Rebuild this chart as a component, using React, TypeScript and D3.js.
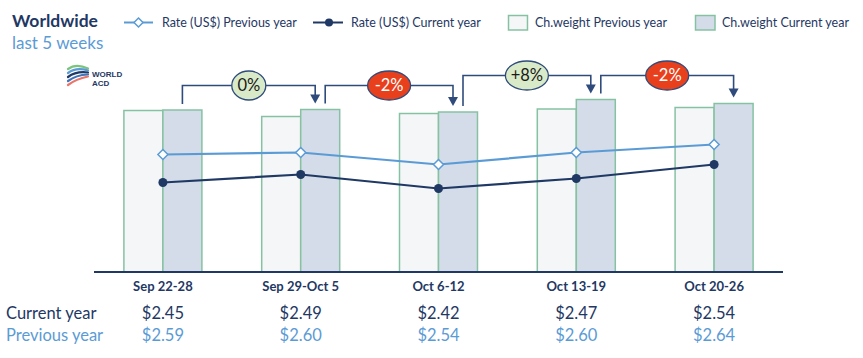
import * as d3 from 'd3';

const weeks = ['Sep 22-28', 'Sep 29-Oct 5', 'Oct 6-12', 'Oct 13-19', 'Oct 20-26'];
const rateCurrent = [2.45, 2.49, 2.42, 2.47, 2.54];
const ratePrevious = [2.59, 2.6, 2.54, 2.6, 2.64];
// chargeable weight, relative index
const weightPrevious = [161.5, 155.5, 158.5, 163, 164.5];
const weightCurrent = [162, 162.5, 160, 172.5, 168.5];
const changeLabels = ['0%', '-2%', '+8%', '-2%'];

const W = 863;
const H = 358;
const NAVY = '#1f3864';
const LIGHT = '#5b9bd5';
const GREEN = '#86c2a2';
const FONT = 'Lato, "Open Sans", sans-serif';

export default function App() {
  const axisY = 272;
  const x = d3.scaleBand<string>().domain(weeks).range([94, 783]);
  const cx = (i: number) => (x(weeks[i]) as number) + x.bandwidth() / 2;
  const barW = 39;

  const yW = d3.scaleLinear().domain([0, 200]).range([axisY, 72]);
  const yR = d3.scaleLinear().domain([2.0, 2.8]).range([272.5, 112.5]);

  const linePrev = d3.line<number>().x((_, i) => cx(i)).y(d => yR(d))(ratePrevious) || '';
  const lineCur = d3.line<number>().x((_, i) => cx(i)).y(d => yR(d))(rateCurrent) || '';

  const diamond = (px: number, py: number, r = 4.5) =>
    `M${px},${py - r}L${px + r},${py}L${px},${py + r}L${px - r},${py}Z`;

  // brackets between consecutive current-year bars
  const brackets = changeLabels.map((lab, i) => {
    const x0 = cx(i) + barW / 2 + (i > 0 ? 5 : 0);
    const x1 = cx(i + 1) + barW / 2 - (i + 1 < weeks.length - 1 ? 5 : 0);
    const y0 = yW(weightCurrent[i]) - 6;
    const y1 = yW(weightCurrent[i + 1]) - 6;
    const yh = Math.min(y0, y1) - 18;
    const neg = lab.startsWith('-');
    const rx = lab.length === 2 ? 17 : lab.length === 3 ? 21.5 : 23;
    return { lab, x0, x1, y0, y1, yh, neg, rx, mx: (x0 + x1) / 2 };
  });

  return (
    <svg width={W} height={H} style={{ position: 'absolute', left: 0, top: 0, background: '#fff' }}
      fontFamily={FONT}>
      {/* title */}
      <text x={12} y={27} fontSize={17.5} fontWeight={700} fill={NAVY}>Worldwide</text>
      <text x={12} y={48.5} fontSize={17} fill={LIGHT}>last 5 weeks</text>

      {/* logo */}
      <g>
        {[['#7bc47f', -7], ['#5b9bd5', -3], ['#1f3864', 1], ['#3f74b8', 5], ['#e8766b', 9]].map(([c, dy], k) => (
          <path key={k}
            d={`M${68},${76 + (dy as number)} Q${76},${70 + (dy as number)} ${88},${72 + (dy as number) * 0.5}`}
            fill="none" stroke={c as string} strokeWidth={2.2} strokeLinecap="round" />
        ))}
        <text x={92} y={76.5} fontSize={8} fontWeight={700} fill={NAVY} fontFamily="Liberation Sans, Arial">WORLD</text>
        <text x={92} y={85.5} fontSize={8} fontWeight={700} fill={NAVY} fontFamily="Liberation Sans, Arial">ACD</text>
      </g>

      {/* legend */}
      <g fontSize={12.5} fill={NAVY}>
        <line x1={124} x2={153} y1={22.5} y2={22.5} stroke={LIGHT} strokeWidth={2} />
        <path d={diamond(138.5, 22.5, 4.5)} fill="#fff" stroke={LIGHT} strokeWidth={1.5} />
        <text x={162} y={27}>Rate (US$) Previous year</text>

        <line x1={313} x2={343} y1={22.5} y2={22.5} stroke={NAVY} strokeWidth={2} />
        <circle cx={329} cy={22.5} r={4} fill={NAVY} />
        <text x={351} y={27}>Rate (US$) Current year</text>

        <rect x={508.5} y={15.5} width={19} height={14.5} fill="#f4f6f8" stroke={GREEN} strokeWidth={1.5} />
        <text x={535} y={27}>Ch.weight Previous year</text>

        <rect x={695.5} y={15.5} width={19.5} height={14.5} fill="#d3dce8" stroke={GREEN} strokeWidth={1.5} />
        <text x={722} y={27}>Ch.weight Current year</text>
      </g>

      {/* bars */}
      {weeks.map((w, i) => (
        <g key={w}>
          <rect x={cx(i) - barW} y={yW(weightPrevious[i])} width={barW} height={axisY - yW(weightPrevious[i])}
            fill="#f4f6f8" stroke={GREEN} strokeWidth={1.5} />
          <rect x={cx(i)} y={yW(weightCurrent[i])} width={barW} height={axisY - yW(weightCurrent[i])}
            fill="#d3dce8" stroke={GREEN} strokeWidth={1.5} />
        </g>
      ))}

      {/* axis */}
      <line x1={94} x2={783} y1={axisY} y2={axisY} stroke={NAVY} strokeWidth={2} />

      {/* rate lines */}
      <path d={linePrev} fill="none" stroke={LIGHT} strokeWidth={2.2} />
      <path d={lineCur} fill="none" stroke={NAVY} strokeWidth={2.2} />
      {ratePrevious.map((v, i) => (
        <path key={'p' + i} d={diamond(cx(i), yR(v), 5)} fill="#fff" stroke={LIGHT} strokeWidth={1.5} />
      ))}
      {rateCurrent.map((v, i) => (
        <circle key={'c' + i} cx={cx(i)} cy={yR(v)} r={4.5} fill={NAVY} />
      ))}

      {/* brackets */}
      {brackets.map((b, i) => (
        <g key={'b' + i}>
          <path d={`M${b.x0},${b.y0}V${b.yh}H${b.x1}V${b.y1 - 8}`} fill="none" stroke="#2f4b7c" strokeWidth={1.6} />
          <path d={`M${b.x1 - 5},${b.y1 - 9}L${b.x1 + 5},${b.y1 - 9}L${b.x1},${b.y1}Z`} fill="#2f4b7c" />
          <ellipse cx={b.mx} cy={b.yh} rx={b.rx} ry={14.5}
            fill={b.neg ? '#e8401c' : '#d8eac8'} stroke="#2f4b7c" strokeWidth={1.3} />
          <text x={b.mx} y={b.yh + 5.5} textAnchor="middle" fontSize={16.5}
            fill={b.neg ? '#fff' : '#1a1a1a'}>{b.lab}</text>
        </g>
      ))}

      {/* x labels */}
      {weeks.map((w, i) => (
        <text key={'x' + w} x={cx(i)} y={291} textAnchor="middle" fontSize={13} fontWeight={700} fill={NAVY}>{w}</text>
      ))}

      {/* table */}
      <text x={6} y={319} fontSize={16.5} fill={NAVY}>Current year</text>
      <text x={6} y={341} fontSize={16.5} fill={LIGHT}>Previous year</text>
      {weeks.map((w, i) => (
        <g key={'t' + w} fontSize={16.5} textAnchor="middle">
          <text x={cx(i)} y={319} fill={NAVY}>${rateCurrent[i].toFixed(2)}</text>
          <text x={cx(i)} y={341} fill={LIGHT}>${ratePrevious[i].toFixed(2)}</text>
        </g>
      ))}
    </svg>
  );
}
